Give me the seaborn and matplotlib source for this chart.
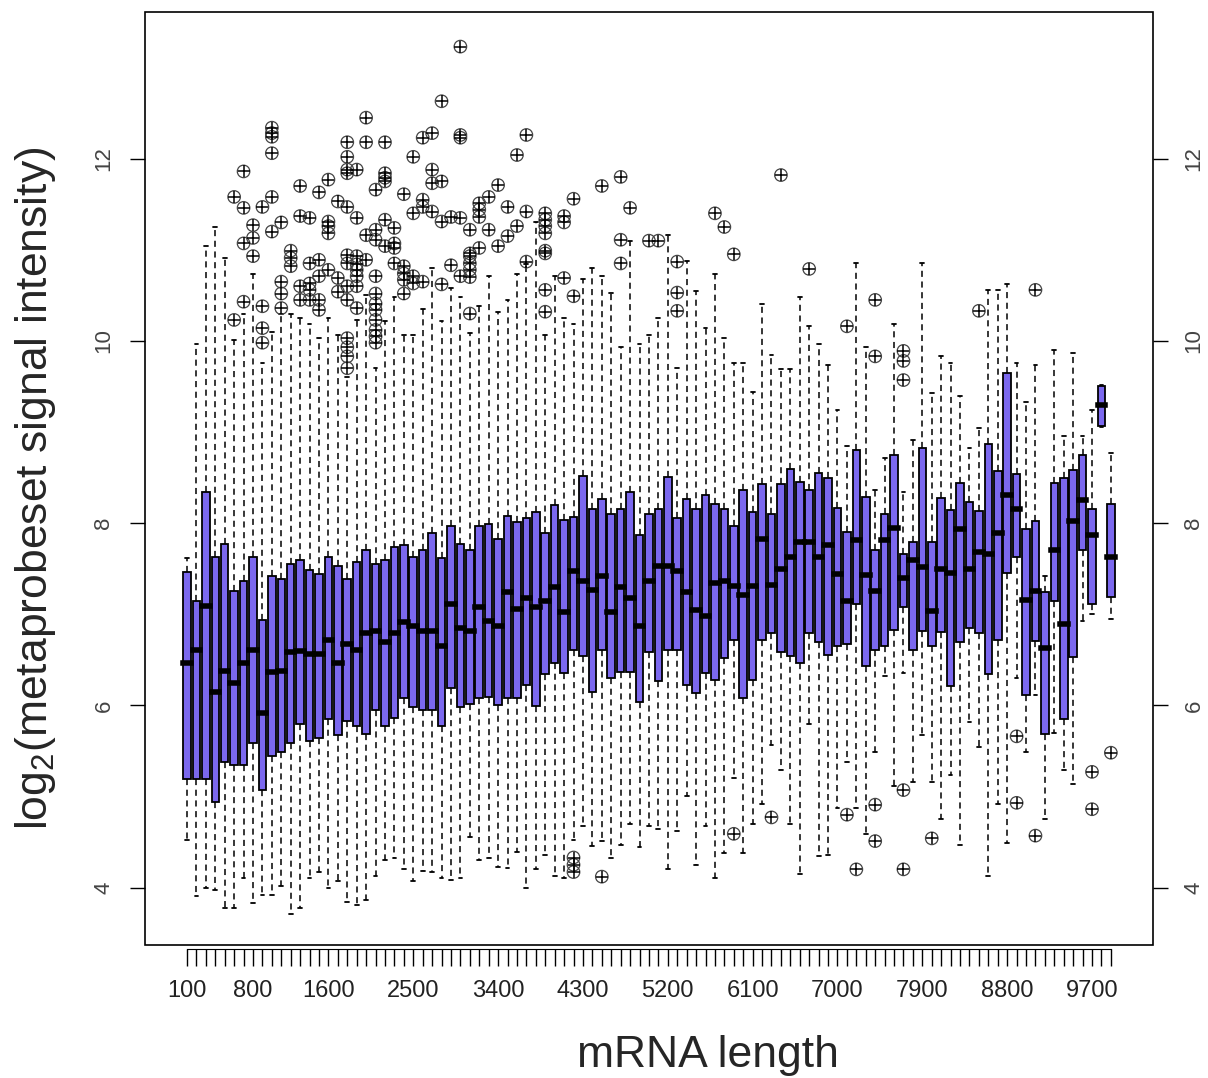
import numpy as np
import pandas as pd
import matplotlib
matplotlib.use("Agg")
import matplotlib.pyplot as plt
from matplotlib.patches import Rectangle
import seaborn as sns

# mRNA length bins (one box per 100 nt)
lengths = list(range(100, 10000, 100))
shown_labels = [100, 800, 1600, 2500, 3400, 4300, 5200, 6100, 7000, 7900, 8800, 9700]

# box statistics (log2 signal)
whi = [7.62, 9.97, 11.04, 11.25, 10.91, 10.01, 10.3, 10.73, 9.76, 10.1,
       10.29, 10.29, 10.25, 10.19, 10.03, 10.25, 10.06, 9.6, 10.23, 10.5,
       9.7, 10.22, 10.48, 10.06, 10.06, 10.35, 10.8, 10.22, 10.58, 10.48,
       10.09, 10.38, 10.71, 10.32, 10.45, 10.73, 10.84, 11.3, 10.06, 10.71,
       10.25, 10.19, 10.68, 10.8, 10.71, 10.53, 9.93, 11.1, 9.97, 10.06,
       10.25, 11.16, 9.7, 10.88, 10.55, 10.14, 10.73, 10.03, 9.76, 9.76,
       9.44, 10.4, 9.85, 9.69, 9.69, 10.48, 10.16, 9.97, 9.74, 9.24,
       8.85, 10.86, 9.93, 8.36, 8.72, 10.19, 8.34, 8.91, 10.85, 9.43,
       9.83, 9.76, 9.39, 8.82, 9.04, 10.56, 10.56, 10.62, 9.76, 9.33,
       9.74, 7.42, 9.9, 8.96, 9.87, 8.96, 9.24, 9.52, 8.77]
q3 = [7.46, 7.15, 8.34, 7.63, 7.77, 7.26, 7.37, 7.63, 6.94, 7.42,
      7.39, 7.55, 7.6, 7.48, 7.44, 7.63, 7.53, 7.39, 7.57, 7.71,
      7.55, 7.6, 7.74, 7.76, 7.63, 7.71, 7.89, 7.62, 7.97, 7.77,
      7.71, 7.97, 7.99, 7.83, 8.08, 8.01, 8.06, 8.12, 7.89, 8.2,
      8.03, 8.07, 8.52, 8.16, 8.26, 8.1, 8.15, 8.34, 7.87, 8.1,
      8.15, 8.51, 8.06, 8.27, 8.16, 8.31, 8.21, 8.16, 7.97, 8.36,
      8.12, 8.43, 8.1, 8.43, 8.59, 8.45, 8.36, 8.55, 8.49, 8.17,
      7.9, 8.8, 8.29, 7.71, 8.1, 8.75, 7.66, 7.79, 8.82, 7.79,
      8.28, 8.14, 8.44, 8.23, 8.13, 8.87, 8.57, 9.65, 8.54, 7.94,
      8.02, 7.24, 8.44, 8.49, 8.58, 8.75, 8.16, 9.51, 8.21]
med = [6.47, 6.61, 7.09, 6.15, 6.38, 6.24, 6.47, 6.61, 5.92, 6.37,
       6.38, 6.58, 6.6, 6.56, 6.56, 6.72, 6.47, 6.67, 6.61, 6.79,
       6.82, 6.69, 6.79, 6.92, 6.87, 6.82, 6.82, 6.65, 7.11, 6.85,
       6.82, 7.08, 6.93, 6.87, 7.24, 7.06, 7.18, 7.08, 7.15, 7.3,
       7.02, 7.47, 7.36, 7.27, 7.42, 7.02, 7.3, 7.18, 6.87, 7.36,
       7.53, 7.53, 7.47, 7.24, 7.05, 6.98, 7.34, 7.37, 7.31, 7.21,
       7.31, 7.83, 7.32, 7.5, 7.63, 7.79, 7.79, 7.63, 7.76, 7.44,
       7.15, 7.81, 7.43, 7.26, 7.81, 7.95, 7.4, 7.6, 7.52, 7.03,
       7.5, 7.45, 7.94, 7.5, 7.68, 7.66, 7.89, 8.31, 8.16, 7.16,
       7.26, 6.63, 7.71, 6.89, 8.02, 8.25, 7.87, 9.3, 7.63]
q1 = [5.19, 5.19, 5.19, 4.94, 5.38, 5.35, 5.35, 5.59, 5.07, 5.44,
      5.49, 5.59, 5.79, 5.61, 5.64, 5.85, 5.67, 5.83, 5.77, 5.69,
      5.95, 5.77, 5.86, 6.08, 5.98, 5.95, 5.95, 5.77, 6.19, 5.98,
      6.01, 6.08, 6.09, 6.0, 6.08, 6.08, 6.22, 5.99, 6.34, 6.47,
      6.35, 6.61, 6.54, 6.15, 6.61, 6.3, 6.37, 6.37, 6.04, 6.58,
      6.27, 6.61, 6.61, 6.22, 6.13, 6.35, 6.28, 6.52, 6.72, 6.08,
      6.28, 6.72, 6.79, 6.58, 6.54, 6.47, 6.79, 6.69, 6.55, 6.65,
      6.67, 7.11, 6.43, 6.61, 6.65, 6.83, 7.08, 6.61, 6.82, 6.65,
      6.8, 6.21, 6.69, 6.85, 6.79, 6.34, 6.72, 7.45, 7.63, 6.11,
      6.71, 5.69, 7.15, 5.85, 6.53, 7.71, 7.11, 9.07, 7.19]
wlo = [4.52, 3.91, 4.0, 3.97, 3.78, 3.78, 4.1, 3.83, 3.92, 3.92,
       4.02, 3.71, 3.78, 4.1, 4.17, 4.0, 4.07, 3.84, 3.81, 3.86,
       4.13, 4.3, 4.33, 4.2, 4.07, 4.18, 4.17, 4.1, 4.08, 4.1,
       4.55, 4.3, 4.33, 4.23, 4.21, 4.39, 4.0, 4.2, 4.36, 4.13,
       4.1, 4.52, 4.68, 4.46, 4.51, 4.33, 4.47, 4.7, 4.44, 4.68,
       4.64, 4.2, 4.62, 5.01, 4.25, 4.68, 4.1, 4.38, 5.2, 4.38,
       4.7, 4.92, 5.57, 5.29, 4.7, 4.15, 5.8, 4.35, 4.36, 4.87,
       5.38, 4.87, 4.59, 5.49, 6.32, 5.12, 6.35, 5.16, 5.68, 5.16,
       4.75, 5.24, 4.47, 5.82, 5.54, 4.13, 4.92, 4.49, 6.3, 5.49,
       6.11, 4.75, 5.7, 5.29, 5.14, 6.93, 7.0, 9.06, 6.95]

# outlying probesets per length bin
outliers = {
    600: [11.58, 10.23],
    700: [11.86, 11.46, 11.07, 10.43],
    800: [11.27, 11.13, 10.93],
    900: [11.47, 10.38, 10.14, 9.98],
    1000: [12.34, 12.28, 12.24, 12.06, 11.58, 11.2],
    1100: [11.3, 10.65, 10.52, 10.36],
    1200: [10.99, 10.91, 10.82],
    1300: [11.7, 11.37, 10.6, 10.45],
    1400: [11.35, 10.85, 10.63, 10.56, 10.45],
    1500: [11.63, 10.89, 10.71, 10.45, 10.34],
    1600: [11.77, 11.31, 11.26, 11.18, 10.78],
    1700: [11.53, 10.69, 10.54],
    1800: [12.18, 12.02, 11.88, 11.84, 11.47, 10.94, 10.85, 10.6, 10.45,
           10.03, 9.93, 9.83, 9.7],
    1900: [11.88, 11.35, 10.93, 10.84, 10.78, 10.71, 10.6, 10.36],
    2000: [12.45, 12.18, 11.16, 10.89],
    2100: [11.66, 11.22, 11.11, 10.71, 10.52, 10.41, 10.34, 10.23, 10.12,
           10.05, 9.98],
    2200: [12.18, 11.84, 11.79, 11.75, 11.33, 11.04],
    2300: [11.24, 11.07, 11.02, 10.85],
    2400: [11.61, 10.82, 10.74, 10.67, 10.52],
    2500: [12.02, 11.4, 10.71, 10.63],
    2600: [12.23, 11.55, 11.47, 10.65],
    2700: [12.28, 11.88, 11.73, 11.42],
    2800: [12.63, 11.75, 11.31, 10.62],
    2900: [11.36, 10.83],
    3000: [13.23, 12.26, 12.23, 11.35, 10.71],
    3100: [11.22, 10.96, 10.93, 10.85, 10.78, 10.7, 10.3],
    3200: [11.51, 11.44, 11.36, 11.02],
    3300: [11.58, 11.22],
    3400: [11.71, 11.04],
    3500: [11.47, 11.15],
    3600: [12.04, 11.26],
    3700: [12.26, 11.42, 10.87],
    3900: [11.4, 11.33, 11.26, 11.18, 10.99, 10.96, 10.56, 10.32],
    4100: [11.37, 11.3, 10.69],
    4200: [11.56, 10.49, 4.33, 4.25, 4.17],
    4500: [11.7, 4.12],
    4700: [11.8, 11.11, 10.85],
    4800: [11.46],
    5000: [11.1],
    5100: [11.1],
    5300: [10.87, 10.53, 10.33],
    5700: [11.4],
    5800: [11.25],
    5900: [10.95, 4.59],
    6300: [4.77],
    6400: [11.82],
    6700: [10.79],
    7100: [10.16, 4.8],
    7200: [4.2],
    7400: [10.45, 9.83, 4.91, 4.51],
    7700: [9.89, 9.78, 9.57, 5.07, 4.2],
    8000: [4.54],
    8500: [10.33],
    8900: [5.66, 4.93],
    9100: [10.56, 4.57],
    9700: [5.27, 4.86],
    9900: [5.48],
}

rows = []
for L, a, b, c, d, e in zip(lengths, wlo, q1, med, q3, whi):
    for v in (a, b, c, d, e):
        rows.append((L, v))
box_df = pd.DataFrame(rows, columns=["length", "signal"])

out_rows = [(L, v) for L, vals in outliers.items() for v in vals]
out_df = pd.DataFrame(out_rows, columns=["length", "signal"])

sns.set_style("white")
plt.rcParams["font.family"] = ["Liberation Sans", "DejaVu Sans"]
plt.rcParams["mathtext.fontset"] = "custom"
plt.rcParams["mathtext.rm"] = "Liberation Sans"
plt.rcParams["mathtext.it"] = "Liberation Sans:italic"

fig = plt.figure(figsize=(12.08, 10.78), dpi=100)
ax = fig.add_axes([0.12, 0.1234, 0.8344, 0.8655])

sns.boxplot(data=box_df, x="length", y="signal", order=lengths,
            color="#7B68EE", saturation=1, width=0.8, whis=np.inf,
            showfliers=False, linecolor="black", linewidth=1.3,
            medianprops=dict(linewidth=4, solid_capstyle="projecting"),
            whiskerprops=dict(linestyle=(0, (4, 3)), linewidth=1.1),
            ax=ax)

sns.stripplot(data=out_df, x="length", y="signal", order=lengths,
              jitter=False, marker="o", size=9, facecolor="none",
              edgecolor="#444444", linewidth=0.9, ax=ax)
sns.stripplot(data=out_df, x="length", y="signal", order=lengths,
              jitter=False, marker="+", size=9, color="black",
              edgecolor="black", linewidth=1.1, ax=ax)

ax.set_xlim(-4.46, 102.46)
ax.set_ylim(3.37, 13.61)

ax.set_xticks(range(len(lengths)))
ax.set_xticklabels([str(L) if L in shown_labels else "" for L in lengths])
ax.set_yticks([4, 6, 8, 10, 12])
ax.set_yticklabels(["4", "6", "8", "10", "12"])

ax.tick_params(axis="x", bottom=True, length=12, width=1, pad=10,
               labelsize=17, labelcolor="#222222", color="black")
ax.tick_params(axis="y", left=True, right=True, labelleft=True,
               labelright=True, length=11, width=1, pad=11, labelsize=16,
               labelcolor="#444444", labelrotation=90, color="black")
for lab in ax.yaxis.get_ticklabels(which="major"):
    lab.set_va("center")

for s in ["left", "right", "top"]:
    ax.spines[s].set_visible(False)
ax.spines["bottom"].set_position(("outward", 3))
ax.spines["bottom"].set_bounds(0, len(lengths) - 1)
ax.spines["bottom"].set_color("black")
ax.add_patch(Rectangle((0, 0), 1, 1, transform=ax.transAxes, fill=False,
                       lw=1.2, edgecolor="black", clip_on=False, zorder=5))

ax.set_xlabel("mRNA length", fontsize=32)
ax.set_ylabel("log$_2$(metaprobeset signal intensity)", fontsize=32)
ax.xaxis.set_label_coords(0.559, -0.118)
ax.xaxis.label.set_va("center")
ax.yaxis.set_label_coords(-0.109, 0.49)
ax.yaxis.label.set_va("center")

fig.savefig("out.png", dpi=100, facecolor="white")
